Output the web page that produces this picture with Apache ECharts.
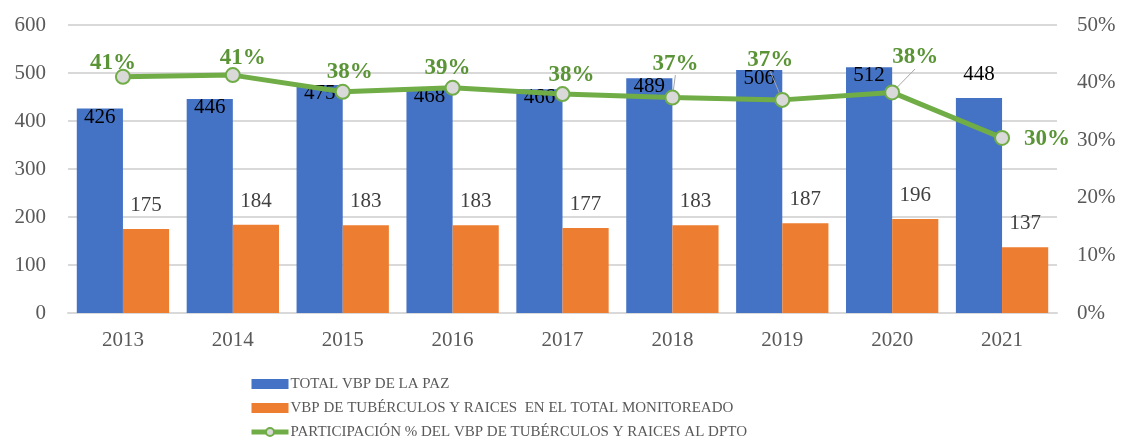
<!DOCTYPE html>
<html>
<head>
<meta charset="utf-8">
<script src="https://cdn.jsdelivr.net/npm/echarts@6/dist/echarts.min.js"></script>
<style>
  html, body { margin: 0; padding: 0; background: #fff; }
  #chart { width: 1123px; height: 439px; }
</style>
</head>
<body>
<div id="chart"></div>
<script>
  // data
  const years = ['2013', '2014', '2015', '2016', '2017', '2018', '2019', '2020', '2021']
  const totalLaPaz = [426, 446, 475, 468, 466, 489, 506, 512, 448]
  const tuberculos = [175, 184, 183, 183, 177, 183, 187, 196, 137]
  const participacion = [41.0, 41.3, 38.4, 39.1, 38.0, 37.4, 37.0, 38.3, 30.4]
  const leftTicks = [0, 100, 200, 300, 400, 500, 600]
  const rightTicks = [0, 10, 20, 30, 40, 50]

  const seriesNames = [
    'TOTAL VBP DE LA PAZ',
    'VBP DE TUBÉRCULOS Y RAICES  EN EL TOTAL MONITOREADO',
    'PARTICIPACIÓN % DEL VBP DE TUBÉRCULOS Y RAICES AL DPTO'
  ]

  // label placement for the % labels (dx, dy from the point)
  const pctLabelShift = [[-10, -14], [10, -17], [7, -20], [-5, -20], [9, -19], [3, -34], [-12, -40], [23, -35], [45, 1]]
  const withLeader = [5, 6, 7]

  const serif = '"Liberation Serif", "DejaVu Serif", serif'
  const axisGrey = '#595959'

  let chart = echarts.init(document.getElementById('chart'))
  chart.setOption({
    animation: false,
    textStyle: { fontFamily: serif },
    grid: { left: 68, right: 66, top: 25, bottom: 126 },
    legend: {
      orient: 'vertical',
      left: 249,
      top: 374,
      height: 80,
      padding: 0,
      itemGap: 4,
      itemWidth: 37,
      itemHeight: 10,
      textStyle: { fontFamily: serif, fontSize: 15, lineHeight: 20, color: axisGrey, padding: [0, 0, 0, -3] },
      data: [
        { name: seriesNames[0], icon: 'rect' },
        { name: seriesNames[1], icon: 'rect' },
        { name: seriesNames[2], lineStyle: { width: 5 } }
      ]
    },
    xAxis: {
      type: 'category',
      data: years,
      axisTick: { show: false },
      axisLine: { lineStyle: { color: '#d9d9d9', width: 2 } },
      axisLabel: { color: axisGrey, fontSize: 21, margin: 17, fontFamily: serif }
    },
    yAxis: [
      {
        type: 'value',
        min: leftTicks[0],
        max: leftTicks[leftTicks.length - 1],
        interval: 100,
        axisLabel: { color: axisGrey, fontSize: 21, margin: 22, fontFamily: serif },
        splitLine: { lineStyle: { color: '#d9d9d9', width: 2 } }
      },
      {
        type: 'value',
        min: rightTicks[0],
        max: rightTicks[rightTicks.length - 1],
        interval: 10,
        axisLabel: { color: axisGrey, fontSize: 21, margin: 20, fontFamily: serif, formatter: '{value}%' },
        splitLine: { show: false }
      }
    ],
    series: [
      {
        name: seriesNames[0],
        type: 'bar',
        barGap: 0,
        barCategoryGap: '16%',
        itemStyle: { color: '#4472c4' },
        label: {
          show: true,
          position: 'insideTop',
          distance: 0,
          offset: [0, -2],
          color: '#000',
          fontSize: 21,
          fontFamily: serif
        },
        data: totalLaPaz.map((v, i) => i === totalLaPaz.length - 1
          ? { value: v, label: { position: 'top', distance: 13, offset: [0, 0] } }
          : v)
      },
      {
        name: seriesNames[1],
        type: 'bar',
        itemStyle: { color: '#ed7d31' },
        label: {
          show: true,
          position: 'top',
          distance: 13,
          color: '#404040',
          fontSize: 21,
          fontFamily: serif
        },
        data: tuberculos
      },
      {
        name: seriesNames[2],
        type: 'line',
        yAxisIndex: 1,
        z: 5,
        symbol: 'circle',
        symbolSize: 14,
        lineStyle: { color: '#70ad47', width: 5 },
        itemStyle: { color: '#d9d9d9', borderColor: '#70ad47', borderWidth: 2 },
        label: {
          show: true,
          position: 'inside',
          color: '#5a9436',
          fontSize: 23,
          fontWeight: 'bold',
          fontFamily: serif,
          formatter: p => Math.round(p.value) + '%'
        },
        labelLine: { show: false, lineStyle: { color: '#a6a6a6', width: 1 } },
        labelLayout: p => ({ dx: pctLabelShift[p.dataIndex][0], dy: pctLabelShift[p.dataIndex][1] }),
        data: participacion.map((v, i) => withLeader.indexOf(i) >= 0
          ? { value: v, labelLine: { show: true, lineStyle: { color: '#a6a6a6', width: 1 } } }
          : v)
      }
    ]
  })
</script>
</body>
</html>
